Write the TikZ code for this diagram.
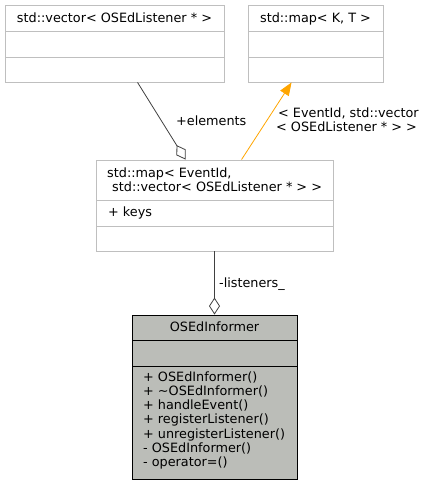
\documentclass[tikz,border=0pt]{standalone}
\usepackage{fontspec}
\setmainfont{DejaVu Sans}
\usetikzlibrary{arrows.meta,calc}
\definecolor{edgegray}{HTML}{404040}
\definecolor{boxgray}{HTML}{BFBFBF}
\definecolor{curfill}{HTML}{BBBDB8}
\definecolor{inhorange}{HTML}{FFA500}
\tikzset{
  classbox/.style={draw=boxgray, line width=0.9pt, fill=white, rectangle, inner sep=0pt},
  curbox/.style={draw=black, line width=0.9pt, fill=curfill, rectangle, inner sep=0pt},
  divider/.style={draw=boxgray, line width=0.9pt},
  curdivider/.style={draw=black, line width=0.9pt},
  txt/.style={inner sep=0pt, font=\fontsize{12.8}{14.3}\selectfont, text=black},
  agg/.style={draw=edgegray, line width=0.8pt, -{Diamond[open,length=17pt,width=11pt,line width=0.8pt]}},
  inh/.style={draw=inhorange, line width=0.8pt, -{Triangle[length=13pt,width=10pt,fill=inhorange]}},
}
\begin{document}
\begin{tikzpicture}[x=1pt,y=-1pt]
\useasboundingbox (0,0) rectangle (424,485);
% std::vector box
\node[classbox, minimum width=219pt, minimum height=77pt] (vec) at (114.5,43.5) {};
\draw[divider] (5,31) -- (224,31);
\draw[divider] (5,57) -- (224,57);
\node[txt, anchor=base] (vect) at (114.5,22) {std::vector< OSEdListener * >};
% std::map<K,T> box
\node[classbox, minimum width=135pt, minimum height=77pt] (mapkt) at (315.5,43.5) {};
\draw[divider] (248,31) -- (383,31);
\draw[divider] (248,57) -- (383,57);
\node[txt, anchor=base] (mapktt) at (315.5,22) {std::map< K, T >};
% middle map box
\node[classbox, minimum width=237pt, minimum height=91pt] (mid) at (214.5,205.5) {};
\draw[divider] (96,200) -- (333,200);
\draw[divider] (96,226) -- (333,226);
\node[txt, anchor=base west] (midt1) at (107,177.7) {std::map< EventId,};
\node[txt, anchor=base west] (midt2) at (112,191.2) {std::vector< OSEdListener * > >};
\node[txt, anchor=base west] (keys) at (108,216.5) {+ keys};
% OSEdInformer box
\node[curbox, minimum width=165pt, minimum height=164pt] (inf) at (214.5,397) {};
\draw[curdivider] (132,340) -- (297,340);
\draw[curdivider] (132,366) -- (297,366);
\node[txt, anchor=base] (inft) at (214.5,331) {OSEdInformer};
\foreach \t [count=\i from 0] in {+ OSEdInformer(),+ \char"007EOSEdInformer(),+ handleEvent(),+ registerListener(),+ unregisterListener(),- OSEdInformer(),- operator=()}{
  \node[txt, anchor=base west] (m\i) at (143,381+14.33*\i) {\t};
}
% connectors
\draw[agg] ($(vec.south west)+(133,0)$) -- ($(mid.north west)+(90,0)$);
\node[txt, anchor=base west] (lelem) at (176,125) {+elements};
\draw[inh] ($(mid.north west)+(146,0)$) -- ($(mapkt.south west)+(44,0)$);
\node[txt, anchor=base west] (linh1) at (278,117) {< EventId, std::vector};
\node[txt, anchor=base west] (linh2) at (276,131.7) {< OSEdListener * > >};
\draw[agg] (mid.south) -- (inf.north);
\node[txt, anchor=base west] (llist) at (219,287) {-listeners\_};
\end{tikzpicture}
\end{document}
